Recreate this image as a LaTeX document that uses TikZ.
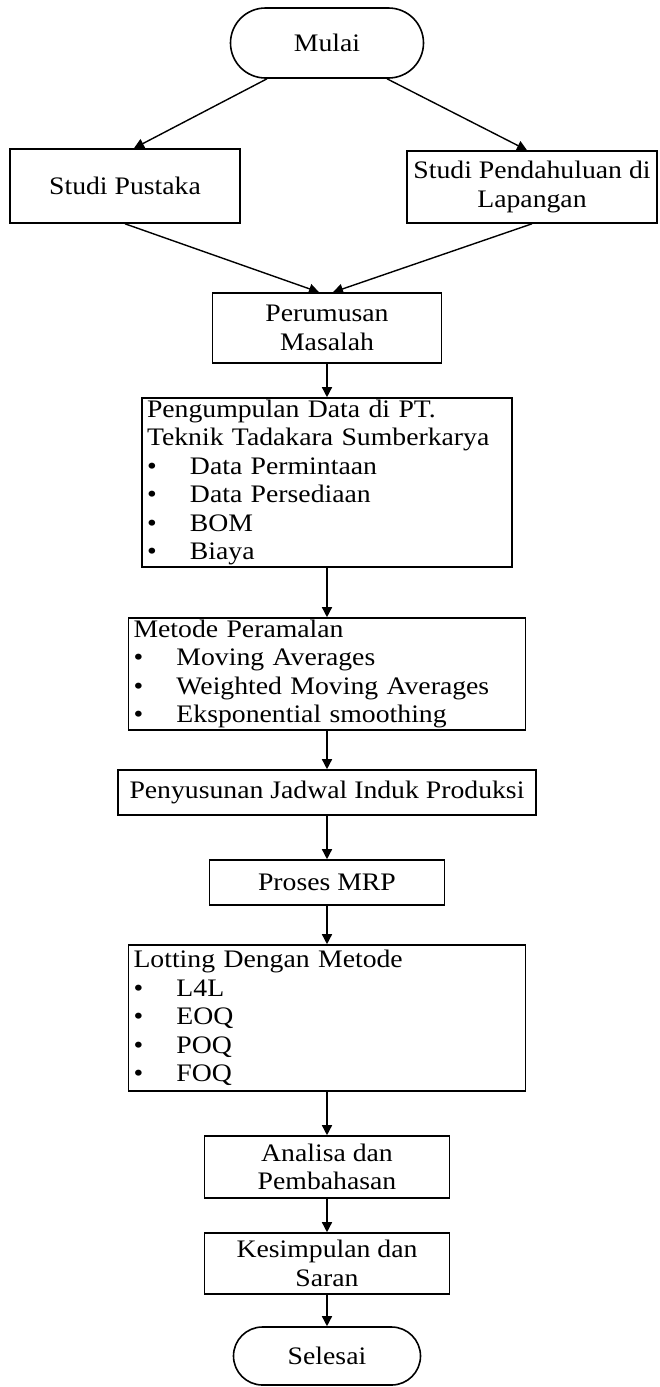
\documentclass[tikz,border=0pt]{standalone}
\usepackage{fontspec}
\setmainfont[FakeStretch=1.1]{Liberation Serif}
\usetikzlibrary{arrows.meta, positioning}
\newcommand{\butir}[1]{\makebox[21.5pt][l]{\textbullet}#1}

\begin{document}
\begin{tikzpicture}[x=0.5pt, y=-0.5pt,
  font=\fontsize{12.6}{14.2}\selectfont,
  box/.style={draw, line width=0.8pt, align=center, inner sep=2pt},
  listbox/.style={draw, line width=0.8pt, align=left,
                  inner xsep=2.5pt, inner ysep=0pt},
  terminal/.style={draw, line width=0.8pt, align=center},
  >={Triangle[length=5pt, width=5pt]}
]
  \useasboundingbox (0,0) rectangle (659,1387);

  % Mulai and the two studies
  \node[terminal, minimum width=96.5pt, minimum height=35pt,
        rounded corners=17.5pt] (mulai) at (327,43) {Mulai};
  \node[box, minimum width=115pt, minimum height=37pt] (pustaka) at (125,186)
    {Studi Pustaka};
  \node[box, minimum width=125pt, minimum height=36pt] (pendahuluan) at (532,187)
    {Studi Pendahuluan di\\Lapangan};

  % Main column
  \node[box, minimum width=114.5pt, minimum height=35pt] (rumus) at (327,328)
    {Perumusan\\Masalah};
  \node[listbox, text width=180pt, minimum height=84.5pt] (kumpul) at (327,482.5)
    {Pengumpulan Data di PT.\\Teknik Tadakara Sumberkarya\\
     \butir{Data Permintaan}\\\butir{Data Persediaan}\\\butir{BOM}\\\butir{Biaya}};
  \node[listbox, text width=193.5pt, minimum height=56pt] (ramal) at (327,674)
    {Metode Peramalan\\\butir{Moving Averages}\\
     \butir{Weighted Moving Averages}\\\butir{Eksponential smoothing}};
  \node[box, minimum width=209pt, minimum height=22.5pt] (jadwal) at (327,792.5)
    {Penyusunan Jadwal Induk Produksi};
  \node[box, minimum width=117.5pt, minimum height=22.5pt] (mrp) at (327,882.5)
    {Proses MRP};
  \node[listbox, text width=193.5pt, minimum height=73pt] (lotting) at (327,1018)
    {Lotting Dengan Metode\\\butir{L4L}\\\butir{EOQ}\\\butir{POQ}\\\butir{FOQ}};
  \node[box, minimum width=122.5pt, minimum height=31pt] (analisa) at (327,1167)
    {Analisa dan\\Pembahasan};
  \node[box, minimum width=122.5pt, minimum height=30.5pt] (simpul) at (327,1263.5)
    {Kesimpulan dan\\Saran};
  \node[terminal, minimum width=93.5pt, minimum height=29pt,
        rounded corners=14.5pt] (selesai) at (327,1356) {Selesai};

  % Connectors
  \draw[->, line width=0.7pt] ([xshift=-30pt]mulai.south) -- ([xshift=4.5pt]pustaka.north);
  \draw[->, line width=0.7pt] ([xshift=30pt]mulai.south) -- ([xshift=-2.5pt]pendahuluan.north);
  \draw[->, line width=0.7pt] (pustaka.south) -- ([xshift=-4pt]rumus.north);
  \draw[->, line width=0.7pt] (pendahuluan.south) -- ([xshift=3pt]rumus.north);
  \draw[->, line width=0.7pt] (rumus) -- (kumpul);
  \draw[->, line width=0.7pt] (kumpul) -- (ramal);
  \draw[->, line width=0.7pt] (ramal) -- (jadwal);
  \draw[->, line width=0.7pt] (jadwal) -- (mrp);
  \draw[->, line width=0.7pt] (mrp) -- (lotting);
  \draw[->, line width=0.7pt] (lotting) -- (analisa);
  \draw[->, line width=0.7pt] (analisa) -- (simpul);
  \draw[->, line width=0.7pt] (simpul) -- (selesai);

\end{tikzpicture}
\end{document}
